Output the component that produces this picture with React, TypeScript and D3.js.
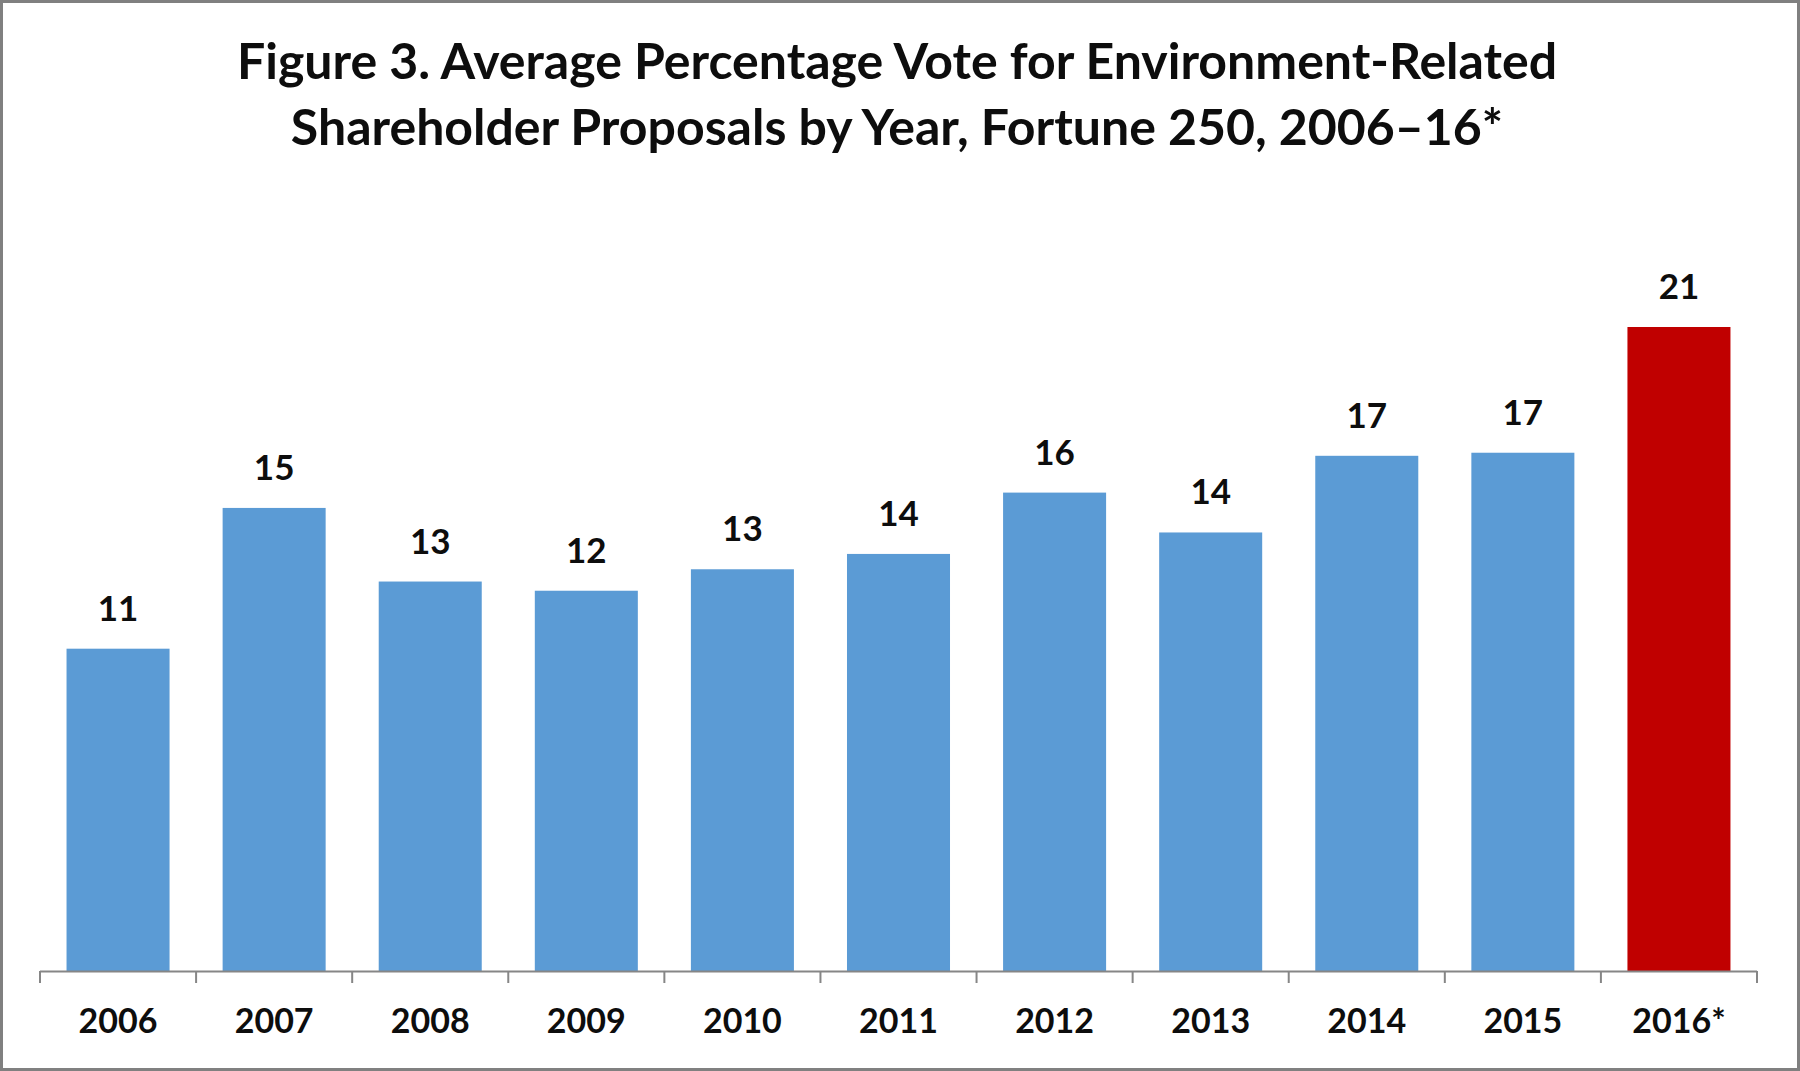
import { useEffect, useRef } from "react";
import * as d3 from "d3";

const years = ["2006", "2007", "2008", "2009", "2010", "2011", "2012", "2013", "2014", "2015", "2016*"];
const avgVote = [10.51, 15.1, 12.7, 12.4, 13.1, 13.6, 15.6, 14.3, 16.8, 16.9, 21.0];
const titleLines = [
  "Figure 3. Average Percentage Vote for Environment-Related",
  "Shareholder Proposals by Year, Fortune 250, 2006\u201316*",
];

const W = 1800;
const H = 1071;
const FONT = "Lato, 'Open Sans', sans-serif";

export default function App() {
  const svgRef = useRef<SVGSVGElement>(null);

  useEffect(() => {
    if (!svgRef.current) return;
    const svg = d3.select(svgRef.current);
    svg.selectAll("*").remove();

    const margin = { left: 40, right: 43, bottom: 100 };
    const baseY = H - margin.bottom;

    svg.append("rect").attr("width", W).attr("height", H).attr("fill", "#fff");

    // 제목
    svg
      .append("g")
      .selectAll("text")
      .data(titleLines)
      .join("text")
      .attr("x", W / 2 - 3)
      .attr("y", (_, i) => 79 + i * 66)
      .attr("text-anchor", "middle")
      .attr("font-family", FONT)
      .attr("font-weight", 700)
      .attr("font-size", 50)
      .attr("fill", "#0d0d0d")
      .text((d) => d);

    const x = d3
      .scaleBand()
      .domain(years)
      .range([margin.left, W - margin.right])
      .paddingInner(0.34)
      .paddingOuter(0.17);

    const y = d3.scaleLinear().domain([0, 21]).range([baseY, 327]);

    // 막대
    svg
      .append("g")
      .selectAll("rect")
      .data(avgVote)
      .join("rect")
      .attr("x", (_, i) => x(years[i]) || 0)
      .attr("y", (d) => y(d))
      .attr("width", x.bandwidth())
      .attr("height", (d) => baseY - y(d))
      .attr("fill", (_, i) => (i === years.length - 1 ? "#C00000" : "#5B9BD5"));

    // 값 라벨
    svg
      .append("g")
      .selectAll("text")
      .data(avgVote)
      .join("text")
      .attr("x", (_, i) => (x(years[i]) || 0) + x.bandwidth() / 2)
      .attr("y", (d) => y(d) - 28)
      .attr("text-anchor", "middle")
      .attr("font-family", FONT)
      .attr("font-weight", 700)
      .attr("font-size", 35)
      .attr("fill", "#0d0d0d")
      .text((d) => d3.format(".0f")(d));

    // x축
    const step = x.step();
    const edges = d3.range(years.length + 1).map((i) => margin.left + i * step);
    const axis = svg.append("g");
    axis
      .append("line")
      .attr("x1", margin.left)
      .attr("x2", W - margin.right)
      .attr("y1", baseY + 0.5)
      .attr("y2", baseY + 0.5)
      .attr("stroke", "#868686")
      .attr("stroke-width", 2);
    axis
      .selectAll("line.tick")
      .data(edges)
      .join("line")
      .attr("class", "tick")
      .attr("x1", (d) => d)
      .attr("x2", (d) => d)
      .attr("y1", baseY)
      .attr("y2", baseY + 12)
      .attr("stroke", "#868686")
      .attr("stroke-width", 2);
    axis
      .selectAll("text")
      .data(years)
      .join("text")
      .attr("x", (d) => (x(d) || 0) + x.bandwidth() / 2)
      .attr("y", baseY + 62)
      .attr("text-anchor", "middle")
      .attr("font-family", FONT)
      .attr("font-weight", 700)
      .attr("font-size", 34)
      .attr("fill", "#0d0d0d")
      .text((d) => d);

    // 테두리
    svg
      .append("rect")
      .attr("x", 1.5)
      .attr("y", 1.5)
      .attr("width", W - 3)
      .attr("height", H - 3)
      .attr("fill", "none")
      .attr("stroke", "#808080")
      .attr("stroke-width", 3);
  }, []);

  return (
    <svg
      ref={svgRef}
      width={W}
      height={H}
      style={{ position: "absolute", left: 0, top: 0, display: "block" }}
    ></svg>
  );
}
